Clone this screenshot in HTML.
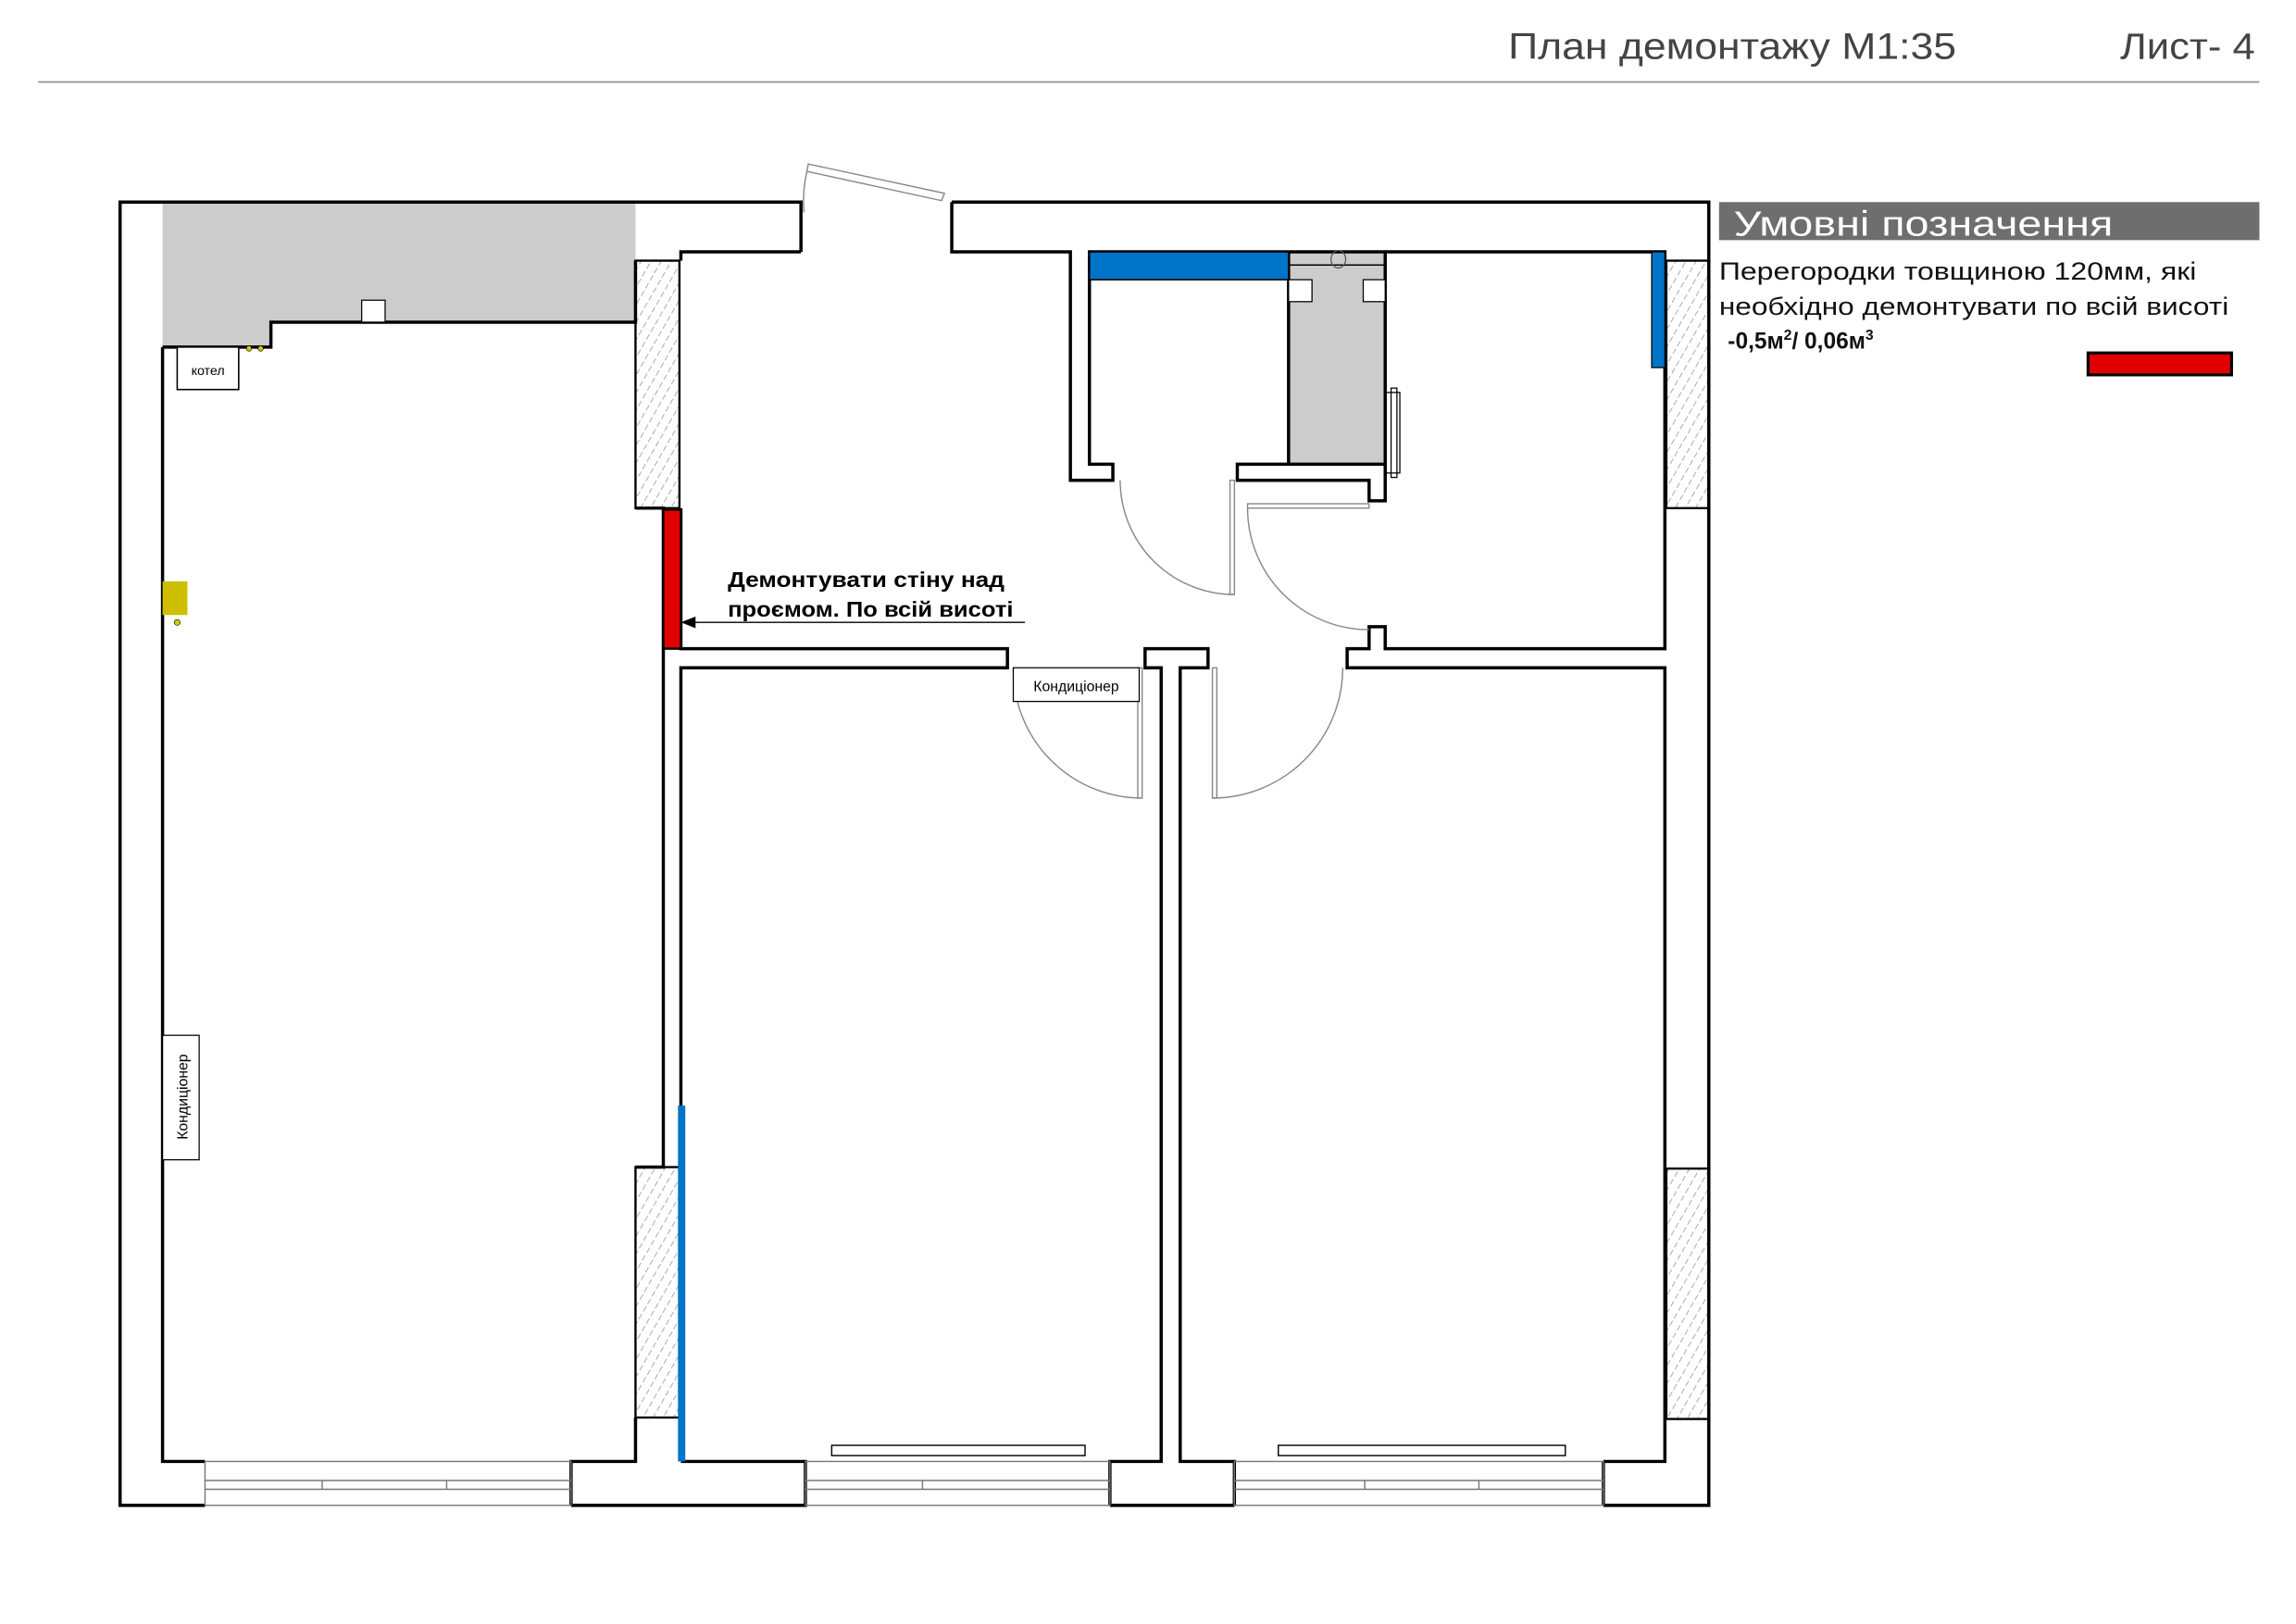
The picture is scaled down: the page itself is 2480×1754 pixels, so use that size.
<!DOCTYPE html>
<html><head><meta charset="utf-8">
<style>
html,body{margin:0;padding:0;background:#fff;}
svg{display:block;}
text{font-family:"Liberation Sans",sans-serif;}
</style></head>
<body>
<svg width="2480" height="1754" viewBox="0 0 1568 1109" xmlns="http://www.w3.org/2000/svg">
<defs>
<pattern id="h" width="6" height="6" patternUnits="userSpaceOnUse" patternTransform="rotate(30)">
<line x1="0" y1="0" x2="0" y2="4" stroke="#888" stroke-width="0.9"/>
</pattern>
</defs>
<rect width="1568" height="1109" fill="#fff"/>
<!-- header -->
<text x="1030" y="40" font-size="25" fill="#444" textLength="306" lengthAdjust="spacingAndGlyphs">План демонтажу М1:35</text>
<text x="1448" y="40" font-size="25" fill="#444" textLength="92" lengthAdjust="spacingAndGlyphs">Лист- 4</text>
<line x1="26" y1="56" x2="1543" y2="56" stroke="#999" stroke-width="1.2"/>

<!-- grey areas -->
<rect x="111" y="138" width="323" height="82" fill="#cccccc"/>
<rect x="111" y="218" width="74" height="19" fill="#cccccc"/>
<rect x="880" y="172" width="66" height="145" fill="#cccccc"/>

<!-- hatched wall parts -->
<rect x="434" y="178" width="30" height="169" fill="url(#h)" stroke="#000" stroke-width="1.5"/>
<rect x="434" y="797" width="30" height="171" fill="url(#h)" stroke="#000" stroke-width="1.5"/>
<rect x="1138" y="178" width="29" height="169" fill="url(#h)" stroke="#000" stroke-width="1.5"/>
<rect x="1138" y="798" width="29" height="171" fill="url(#h)" stroke="#000" stroke-width="1.5"/>

<g fill="none" stroke="#000" stroke-width="2.2" stroke-linejoin="miter">
<polyline points="547,172 547,138 82,138 82,1028 140,1028"/>
<polyline points="140,998 111,998 111,237"/>
<polyline points="111,237 185,237 185,220 434,220 434,178"/>
<polyline points="465,178 465,172 547,172"/>
<polyline points="650,138 1167,138 1167,1028 1095,1028"/>
<polyline points="1095,998 1137,998 1137,456 920,456 920,443 935,443 935,428 946,428 946,443 1137,443 1137,172 946,172"/>
<polyline points="390,1028 390,998 434,998 434,968"/>
<polyline points="390,1028 550,1028 550,998 465,998"/>
<polyline points="758,1028 758,998 793,998 793,456 782,456 782,443 825,443 825,456 806,456 806,998 843,998 843,1028"/>
<polyline points="758,1028 843,1028"/>
<polyline points="1095,1028 1095,998"/>
<polyline points="434,347 453,347 453,797 434,797"/>
<polyline points="465,347 465,443 688,443 688,456 465,456 465,797"/>
<polyline points="650,138 650,172 731,172 731,328 760,328 760,317 744,317 744,172 880,172"/>
<polyline points="880,172 946,172 946,317 845,317 845,328 935,328 935,342 946,342 946,317"/>
<line x1="880" y1="172" x2="880" y2="317"/>
</g>

<!-- red demolition -->
<rect x="453" y="348" width="12" height="95" fill="#e00000" stroke="#000" stroke-width="1.5"/>
<!-- blue -->
<rect x="744" y="172" width="136" height="19" fill="#0074c6" stroke="#000" stroke-width="1"/>
<rect x="1128" y="172" width="9" height="79" fill="#0074c6" stroke="#000" stroke-width="0.8"/>
<rect x="463" y="755" width="5" height="243" fill="#0074c6"/>

<!-- WC details -->
<line x1="880" y1="181" x2="946" y2="181" stroke="#000" stroke-width="1"/>
<ellipse cx="914" cy="177" rx="5" ry="6" fill="none" stroke="#555" stroke-width="0.8"/>
<rect x="880" y="191" width="16" height="15" fill="#fff" stroke="#000" stroke-width="0.8"/>
<rect x="931" y="191" width="15" height="15" fill="#fff" stroke="#000" stroke-width="0.8"/>
<rect x="946" y="268" width="10" height="55" fill="none" stroke="#000" stroke-width="0.8"/>
<rect x="950" y="265" width="4" height="61" fill="none" stroke="#000" stroke-width="0.8"/>
<rect x="247" y="205" width="16" height="15" fill="#fff" stroke="#000" stroke-width="0.8"/>

<!-- doors -->
<g fill="none" stroke="#888" stroke-width="0.9">
<path d="M765,328 A78,78 0 0 0 843,406"/>
<rect x="840" y="328" width="3" height="78"/>
<path d="M852,347 A83,83 0 0 0 935,430"/>
<rect x="852" y="344" width="83" height="3"/>
<path d="M692,456 A88,88 0 0 0 780,545"/>
<rect x="777" y="456" width="3" height="89"/>
<path d="M917,456 A89,89 0 0 1 828,545"/>
<rect x="828" y="456" width="3" height="89"/>
<path d="M552,112 L645,132 L643,137 L551,117 Z"/>
<path d="M551,117 A95,95 0 0 0 549,145"/>
</g>

<!-- windows -->
<g stroke="#777" stroke-width="0.9" fill="none">
<rect x="140" y="998" width="250" height="30"/>
<line x1="140" y1="1011" x2="390" y2="1011"/><line x1="140" y1="1017" x2="390" y2="1017"/>
<rect x="550" y="998" width="208" height="30"/>
<line x1="550" y1="1011" x2="758" y2="1011"/><line x1="550" y1="1017" x2="758" y2="1017"/>
<rect x="843" y="998" width="252" height="30"/>
<line x1="843" y1="1011" x2="1095" y2="1011"/><line x1="843" y1="1017" x2="1095" y2="1017"/>
<line x1="220" y1="1011" x2="220" y2="1017"/><line x1="305" y1="1011" x2="305" y2="1017"/>
<line x1="630" y1="1011" x2="630" y2="1017"/><line x1="932" y1="1011" x2="932" y2="1017"/><line x1="1010" y1="1011" x2="1010" y2="1017"/>
</g>
<!-- radiators -->
<rect x="568" y="987" width="173" height="7" fill="#fff" stroke="#000" stroke-width="0.9"/>
<rect x="873" y="987" width="196" height="7" fill="#fff" stroke="#000" stroke-width="0.9"/>

<!-- equipment -->
<rect x="121" y="237" width="42" height="29" fill="#fff" stroke="#000" stroke-width="1"/>
<text x="142" y="256" font-size="9" text-anchor="middle">котел</text>
<circle cx="170" cy="238" r="1.8" fill="#cc0" stroke="#000" stroke-width="0.4"/>
<circle cx="178" cy="238" r="1.8" fill="#cc0" stroke="#000" stroke-width="0.4"/>
<rect x="111" y="397" width="17" height="23" fill="#cdbf00"/>
<circle cx="121" cy="425" r="2" fill="#cc0" stroke="#000" stroke-width="0.4"/>
<rect x="111" y="707" width="25" height="85" fill="#fff" stroke="#000" stroke-width="0.8"/>
<text transform="translate(128,749) rotate(-90)" font-size="10" text-anchor="middle">Кондиціонер</text>
<rect x="692" y="456" width="86" height="23" fill="#fff" stroke="#000" stroke-width="0.8"/>
<text x="735" y="472" font-size="10" text-anchor="middle">Кондиціонер</text>

<!-- annotation -->
<text x="497" y="401" font-size="14.5" font-weight="bold" textLength="189" lengthAdjust="spacingAndGlyphs">Демонтувати стіну над</text>
<text x="497" y="421" font-size="14.5" font-weight="bold" textLength="195" lengthAdjust="spacingAndGlyphs">проємом. По всій висоті</text>
<line x1="473" y1="425" x2="700" y2="425" stroke="#000" stroke-width="0.9"/>
<polygon points="465,425 475,421 475,429" fill="#000"/>

<!-- legend -->
<rect x="1174" y="138" width="369" height="26" fill="#6e6e6e"/>
<text x="1184" y="161" font-size="24" fill="#fff" textLength="259" lengthAdjust="spacingAndGlyphs">Умовні позначення</text>
<text x="1174" y="191" font-size="17" fill="#111" textLength="326" lengthAdjust="spacingAndGlyphs">Перегородки товщиною 120мм, які</text>
<text x="1174" y="215" font-size="17" fill="#111" textLength="348" lengthAdjust="spacingAndGlyphs">необхідно демонтувати по всій висоті</text>
<text x="1180" y="238" font-size="15.5" font-weight="bold" fill="#111">-0,5м<tspan font-size="10" dy="-6">2</tspan><tspan dy="6">/ 0,06м</tspan><tspan font-size="10" dy="-6">3</tspan></text>
<rect x="1426" y="241" width="98" height="15" fill="#e00000" stroke="#000" stroke-width="2"/>
</svg>
</body></html>
